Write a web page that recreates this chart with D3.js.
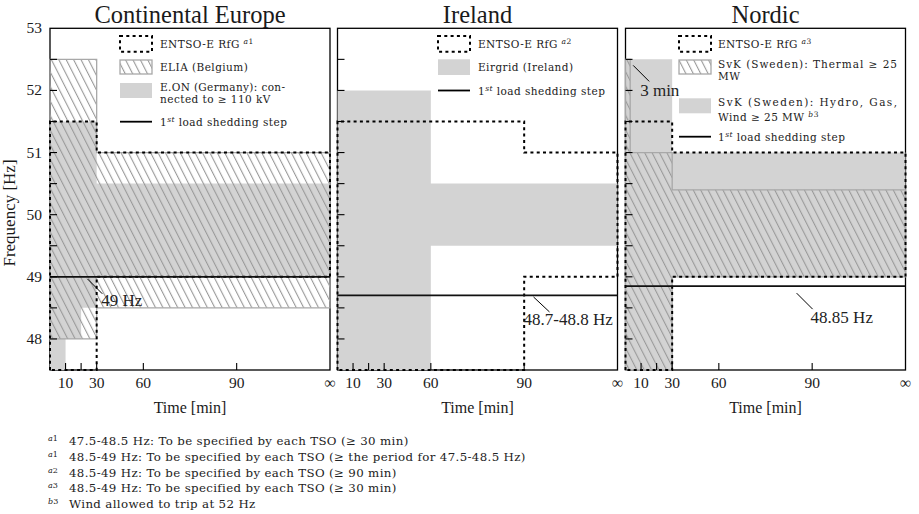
<!DOCTYPE html>
<html>
<head>
<meta charset="utf-8">
<script src="https://cdn.jsdelivr.net/npm/d3@7"></script>
<style>
  body { margin: 0; background: #fff; }
  svg { display: block; }
  .big { font-family: "Liberation Serif", "DejaVu Serif", serif; }
  .small { font-family: "DejaVu Serif", "Liberation Serif", serif; }
</style>
</head>
<body>
<svg id="chart" width="919" height="514"></svg>
<script>
// Position used for the open-ended "∞" time bucket on the x axis
const INF = 120;

// ---------- data ----------
const panelTitles = ["Continental Europe", "Ireland", "Nordic"];

const timeTickValues = [10, 20, 30, 60, 90, INF];
const timeTickLabels = ["10", "", "30", "60", "90", "\u221E"];

const freqTickValues = [48, 48.5, 49, 49.5, 50, 50.5, 51, 51.5, 52, 52.5];
const freqTickLabels = [48, 49, 50, 51, 52, 53];

// Continental Europe: [time (min), frequency (Hz)] outlines
const ceEntsoe = [[0, 47.5], [0, 51.5], [30, 51.5], [30, 51], [INF, 51], [INF, 49], [30, 49], [30, 47.5]];
const ceElia = [[0, 48], [0, 52.5], [30, 52.5], [30, 51], [INF, 51], [INF, 48.5], [30, 48.5], [30, 48]];
const ceEon = [[0, 47.5], [0, 51.5], [30, 51.5], [30, 50.5], [INF, 50.5], [INF, 49], [30, 49], [30, 48.5], [20, 48.5], [20, 48], [10, 48], [10, 47.5]];
const ceShedding = 49;

// Ireland
const ieEntsoe = [[0, 47.5], [0, 51.5], [90, 51.5], [90, 51], [INF, 51], [INF, 49], [90, 49], [90, 47.5]];
const ieEirgrid = [[0, 47.5], [0, 52], [60, 52], [60, 50.5], [INF, 50.5], [INF, 49.5], [60, 49.5], [60, 47.5]];
const ieShedding = 48.7;

// Nordic
const noEntsoe = [[0, 47.5], [0, 51.5], [30, 51.5], [30, 51], [INF, 51], [INF, 49], [30, 49], [30, 47.5]];
const noThermal = [[0, 47.5], [0, 52.5], [3, 52.5], [3, 51], [30, 51], [30, 50.4], [INF, 50.4], [INF, 49], [30, 49], [30, 47.5]];
const noHydro = [[0, 47.5], [0, 52.5], [30, 52.5], [30, 51], [INF, 51], [INF, 49], [30, 49], [30, 47.5]];
const noShedding = 48.85;

const footnoteMarks = ["a1", "a1", "a2", "a3", "b3"];
const footnoteTexts = [
  "47.5-48.5 Hz: To be specified by each TSO (\u2265 30 min)",
  "48.5-49 Hz: To be specified by each TSO (\u2265 the period for 47.5-48.5 Hz)",
  "48.5-49 Hz: To be specified by each TSO (\u2265 90 min)",
  "48.5-49 Hz: To be specified by each TSO (\u2265 30 min)",
  "Wind allowed to trip at 52 Hz"
];

// ---------- layout ----------
const GRAY = "#d3d3d3";
const panelLeft = [50, 337.5, 625.5];
const PW = 280;
const yTop = 28.3, yBot = 370;

const svg = d3.select("#chart");
const y = d3.scaleLinear().domain([47.5, 53]).range([yBot, yTop]);

// diagonal hatch
const defs = svg.append("defs");
const pat = defs.append("pattern")
  .attr("id", "hatch")
  .attr("patternUnits", "userSpaceOnUse")
  .attr("width", 6.6).attr("height", 20)
  .attr("patternTransform", "rotate(-27)");
pat.append("rect").attr("x", 0).attr("y", 0).attr("width", 1.1).attr("height", 20).attr("fill", "#9a9a9a");

function bigText(sel, size) {
  return sel.append("text").attr("class", "big").attr("font-size", size).attr("fill", "#1a1a1a");
}
function smallText(sel, size, spacing) {
  return sel.append("text").attr("class", "small").attr("font-size", size)
    .attr("letter-spacing", spacing || 0).attr("fill", "#222");
}

// Text with ^{...} superscripts: letters italic, digits upright
function rich(textSel, str, supSize, raise) {
  const parts = str.split(/(\^\{[^}]*\})/);
  let pending = 0;
  parts.forEach(p => {
    if (!p) return;
    if (p.startsWith("^{")) {
      const runs = p.slice(2, -1).match(/[A-Za-z]+|[^A-Za-z]+/g);
      runs.forEach((r, i) => {
        const ts = textSel.append("tspan").attr("font-size", supSize).text(r);
        if (/[A-Za-z]/.test(r)) ts.attr("font-style", "italic");
        if (i === 0) ts.attr("dy", -raise + pending);
      });
      pending = raise;
    } else {
      const ts = textSel.append("tspan").text(p);
      if (pending) { ts.attr("dy", pending); pending = 0; }
    }
  });
  return textSel;
}

const panels = [
  {
    gray: ceEon, hatch: ceElia, entsoe: ceEntsoe, shed: ceShedding,
    legendX: [70, 102, 110],
    legend: [
      { kind: "dotted", top: 36, bot: 51.7, lines: [["ENTSO-E RfG ^{a1}", 48]] },
      { kind: "hatch", top: 60, bot: 74, lines: [["ELIA (Belgium)", 70.5]] },
      { kind: "gray", top: 83, bot: 98, lines: [["E.ON (Germany): con-", 90.5, 125], ["nected to \u2265 110 kV", 102.5]] },
      { kind: "line", top: 121.7, lines: [["1^{st} load shedding step", 126]] }
    ],
    notes: [{ t: 24, text: "49 Hz", lead: [0, 2, 15, 17], tx: 14, ty: 29 }]
  },
  {
    gray: ieEirgrid, hatch: null, entsoe: ieEntsoe, shed: ieShedding,
    legendX: [100.5, 132.5, 140.5],
    legend: [
      { kind: "dotted", top: 36, bot: 51.7, lines: [["ENTSO-E RfG ^{a2}", 48]] },
      { kind: "gray", top: 59.3, bot: 75, lines: [["Eirgrid (Ireland)", 70.5]] },
      { kind: "line", top: 90.5, lines: [["1^{st} load shedding step", 94.5]] }
    ],
    notes: [{ t: 93, text: "48.7-48.8 Hz", lead: [0, 1.5, 16, 16.5], tx: -10, ty: 30 }]
  },
  {
    gray: noHydro, hatch: noThermal, entsoe: noEntsoe, shed: noShedding,
    legendX: [53.5, 85.5, 92.5],
    legend: [
      { kind: "dotted", top: 36, bot: 51.7, lines: [["ENTSO-E RfG ^{a3}", 48]] },
      { kind: "hatch", top: 60, bot: 74, lines: [["SvK (Sweden): Thermal \u2265 25", 68.3, 179], ["MW", 80.3]] },
      { kind: "gray", top: 98.3, bot: 113.3, lines: [["SvK (Sweden): Hydro, Gas,", 106, 179], ["Wind \u2265 25 MW ^{b3}", 120.7]] },
      { kind: "line", top: 136.7, lines: [["1^{st} load shedding step", 140.7]] }
    ],
    notes: [{ t: 85, text: "48.85 Hz", lead: [0, 7, 16, 23], tx: 14, ty: 37 }],
    stripNote: { t: 3, f: 52.5, text: "3 min", lead: [3, 6, 19, 22], tx: 10, ty: 37 }
  }
];

panels.forEach((P, i) => {
  const g = svg.append("g").attr("transform", `translate(${panelLeft[i]},0)`);
  const x = d3.scaleLinear().domain([0, 60, 90, INF]).range([0, PW / 3, 2 * PW / 3, PW]);
  const line = d3.line().x(d => x(d[0])).y(d => y(d[1]));

  // frame
  g.append("rect").attr("x", 0).attr("y", yTop).attr("width", PW).attr("height", yBot - yTop)
    .attr("fill", "#fff").attr("stroke", "#000").attr("stroke-width", 1.3);

  // regions
  g.append("path").attr("d", line(P.gray) + "Z").attr("fill", GRAY);
  if (P.hatch) {
    g.append("path").attr("d", line(P.hatch) + "Z")
      .attr("fill", "url(#hatch)").attr("stroke", "#a8a8a8").attr("stroke-width", 1.3);
  }
  g.append("path").attr("d", line(P.entsoe) + "Z")
    .attr("fill", "none").attr("stroke", "#000").attr("stroke-width", 2).attr("stroke-dasharray", "3,3.3");

  // first load shedding step
  g.append("line").attr("x1", x(0)).attr("x2", x(INF)).attr("y1", y(P.shed)).attr("y2", y(P.shed))
    .attr("stroke", "#111").attr("stroke-width", 1.8);

  // ticks (inward)
  freqTickValues.forEach(f => {
    g.append("line").attr("x1", 0).attr("x2", 7).attr("y1", y(f)).attr("y2", y(f))
      .attr("stroke", "#000").attr("stroke-width", 1.1);
  });
  timeTickValues.forEach((t, k) => {
    if (t !== INF) {
      g.append("line").attr("x1", x(t)).attr("x2", x(t)).attr("y1", yBot).attr("y2", yBot - 7)
        .attr("stroke", "#000").attr("stroke-width", 1.1);
    }
    if (timeTickLabels[k]) {
      bigText(g, 15.5).attr("x", x(t)).attr("y", 388).attr("text-anchor", "middle").text(timeTickLabels[k]);
    }
  });
  if (i === 0) {
    freqTickLabels.forEach(f => {
      bigText(g, 15.5).attr("x", -8).attr("y", y(f) + 5).attr("text-anchor", "end").text(f);
    });
  }

  // annotations
  P.notes.forEach(n => {
    const ax = x(n.t), ay = y(P.shed);
    g.append("line").attr("x1", ax + n.lead[0]).attr("y1", ay + n.lead[1])
      .attr("x2", ax + n.lead[2]).attr("y2", ay + n.lead[3]).attr("stroke", "#000").attr("stroke-width", 1);
    bigText(g, 17).attr("x", ax + n.tx).attr("y", ay + n.ty).attr("fill", "#222").text(n.text);
  });
  if (P.stripNote) {
    const n = P.stripNote, ax = x(n.t), ay = y(n.f);
    g.append("line").attr("x1", ax + n.lead[0]).attr("y1", ay + n.lead[1])
      .attr("x2", ax + n.lead[2]).attr("y2", ay + n.lead[3]).attr("stroke", "#000").attr("stroke-width", 1);
    bigText(g, 17).attr("x", ax + n.tx).attr("y", ay + n.ty).attr("fill", "#222").text(n.text);
  }

  // legend
  const [s0, s1, tx] = P.legendX;
  P.legend.forEach(item => {
    if (item.kind === "line") {
      g.append("line").attr("x1", s0).attr("x2", s1).attr("y1", item.top).attr("y2", item.top)
        .attr("stroke", "#000").attr("stroke-width", 1.8);
    } else {
      const r = g.append("rect").attr("x", s0).attr("y", item.top).attr("width", s1 - s0).attr("height", item.bot - item.top);
      if (item.kind === "dotted") r.attr("fill", "none").attr("stroke", "#000").attr("stroke-width", 2).attr("stroke-dasharray", "3,3.3");
      if (item.kind === "hatch") r.attr("fill", "url(#hatch)").attr("stroke", "#a8a8a8").attr("stroke-width", 1.3);
      if (item.kind === "gray") r.attr("fill", GRAY);
    }
    item.lines.forEach(([str, base, len]) => {
      const t = smallText(g, 10.5, len ? 0 : 0.45).attr("x", tx).attr("y", base);
      if (len) t.attr("textLength", len).attr("lengthAdjust", "spacing");
      rich(t, str, 7.5, 4);
    });
  });

  // titles and x label
  bigText(svg, 24.5).attr("x", panelLeft[i] + PW / 2).attr("y", 22.5).attr("text-anchor", "middle").text(panelTitles[i]);
  bigText(svg, 16).attr("x", panelLeft[i] + PW / 2).attr("y", 413).attr("text-anchor", "middle").text("Time [min]");
});

// y label
bigText(svg, 17).attr("transform", "translate(15,213) rotate(-90)")
  .attr("text-anchor", "middle").text("Frequency [Hz]");

// footnotes
footnoteTexts.forEach((txt, k) => {
  const base = 445 + k * 15.8;
  const m = smallText(svg, 8).attr("x", 48).attr("y", base - 4);
  const mm = footnoteMarks[k].match(/[A-Za-z]+|[^A-Za-z]+/g);
  mm.forEach(r => {
    const ts = m.append("tspan").text(r);
    if (/[A-Za-z]/.test(r)) ts.attr("font-style", "italic");
  });
  smallText(svg, 11.8, 0.35).attr("x", 69).attr("y", base).text(txt);
});
</script>
</body>
</html>
